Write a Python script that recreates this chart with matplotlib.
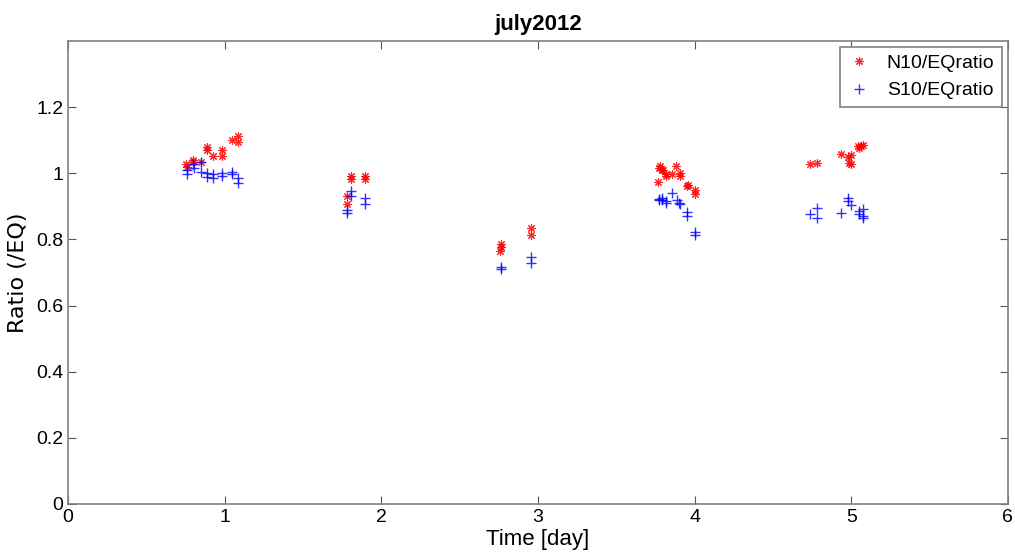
import matplotlib
matplotlib.use('Agg')
import matplotlib.pyplot as plt
import numpy as np

# N10/EQ ratio (red)
n10_t = [0.753, 0.757, 0.80, 0.80, 0.847, 0.889, 0.889, 0.928, 0.983, 0.983, 1.047, 1.085, 1.085,
         1.783, 1.783, 1.804, 1.804, 1.894, 1.894,
         2.757, 2.762, 2.762, 2.957, 2.957,
         3.768, 3.772, 3.78, 3.79, 3.80, 3.818, 3.818, 3.853, 3.883, 3.91, 3.91, 3.951, 3.96, 4.0, 4.0,
         4.736, 4.779, 4.934, 4.981, 4.985, 5.0, 5.0, 5.045, 5.05, 5.06, 5.074]
n10_r = [1.029, 1.019, 1.039, 1.035, 1.035, 1.079, 1.069, 1.053, 1.069, 1.053, 1.101, 1.113, 1.095,
         0.932, 0.907, 0.993, 0.981, 0.993, 0.981,
         0.766, 0.786, 0.778, 0.834, 0.812,
         0.974, 1.015, 1.023, 1.009, 1.011, 0.998, 0.991, 0.998, 1.022, 1.002, 0.993, 0.960, 0.963, 0.949, 0.937,
         1.029, 1.031, 1.057, 1.049, 1.031, 1.055, 1.027, 1.081, 1.077, 1.083, 1.085]

# S10/EQ ratio (blue)
s10_t = [0.757, 0.757, 0.80, 0.804, 0.847, 0.847, 0.889, 0.889, 0.928, 0.928, 0.983, 0.983, 1.047, 1.047, 1.085, 1.085,
         1.783, 1.783, 1.808, 1.808, 1.894, 1.894,
         2.762, 2.762, 2.957, 2.957,
         3.77, 3.77, 3.79, 3.79, 3.817, 3.817, 3.855, 3.885, 3.898, 3.91, 3.953, 3.953, 4.0, 4.0,
         4.736, 4.779, 4.779, 4.934, 4.981, 4.981, 5.0, 5.048, 5.048, 5.074, 5.074, 5.074]
s10_r = [1.009, 0.997, 1.027, 1.015, 1.033, 1.005, 1.0, 0.988, 0.997, 0.985, 1.0, 0.993, 1.005, 0.997, 0.985, 0.969,
         0.888, 0.880, 0.947, 0.932, 0.925, 0.907,
         0.715, 0.710, 0.748, 0.730,
         0.922, 0.918, 0.926, 0.918, 0.915, 0.910, 0.941, 0.919, 0.910, 0.906, 0.882, 0.870, 0.822, 0.814,
         0.878, 0.894, 0.866, 0.880, 0.926, 0.915, 0.905, 0.886, 0.877, 0.891, 0.872, 0.865]

fam = ['Liberation Sans Narrow', 'Liberation Sans', 'DejaVu Sans']
plt.rcParams['font.family'] = fam

fig = plt.figure(figsize=(10.15, 5.6), dpi=100)
ax = fig.add_axes([0.067, 0.1, 0.926, 0.827])

# MATLAB-style '*' marker: 8-armed asterisk
ax.plot(n10_t, n10_r, linestyle='none', marker=(8, 2, 0), markersize=6, markeredgewidth=0.8,
        color='red', alpha=0.85, label='N10/EQratio')
ax.plot(s10_t, s10_r, linestyle='none', marker='+', markersize=7, markeredgewidth=1,
        color='blue', alpha=0.8, label='S10/EQratio')

ax.set_xlim(0, 6)
ax.set_ylim(0, 1.4)
ax.set_xticks([0, 1, 2, 3, 4, 5, 6])
ax.set_yticks([0, 0.2, 0.4, 0.6, 0.8, 1.0, 1.2])
ax.set_yticklabels(['0', '0.2', '0.4', '0.6', '0.8', '1', '1.2'])
ax.tick_params(direction='in', top=True, right=True, length=6, labelsize=14, colors='#555555', labelcolor='black')
for s in ax.spines.values():
    s.set_color('#808080')
    s.set_linewidth(1.2)

ax.set_xlabel('Time [day]', fontsize=16, labelpad=2)
ax.set_ylabel('Ratio (/EQ)', fontsize=16, family=['DejaVu Sans'], labelpad=6)
ax.set_title('july2012', fontsize=16, fontweight='bold', pad=8)

leg = ax.legend(loc='upper right', fontsize=14, handlelength=1.2, fancybox=False, framealpha=1, borderaxespad=0.3)
leg.get_frame().set_edgecolor('#808080')
leg.get_frame().set_linewidth(1.2)

fig.savefig('out.png', dpi=100)
plt.close('all')
